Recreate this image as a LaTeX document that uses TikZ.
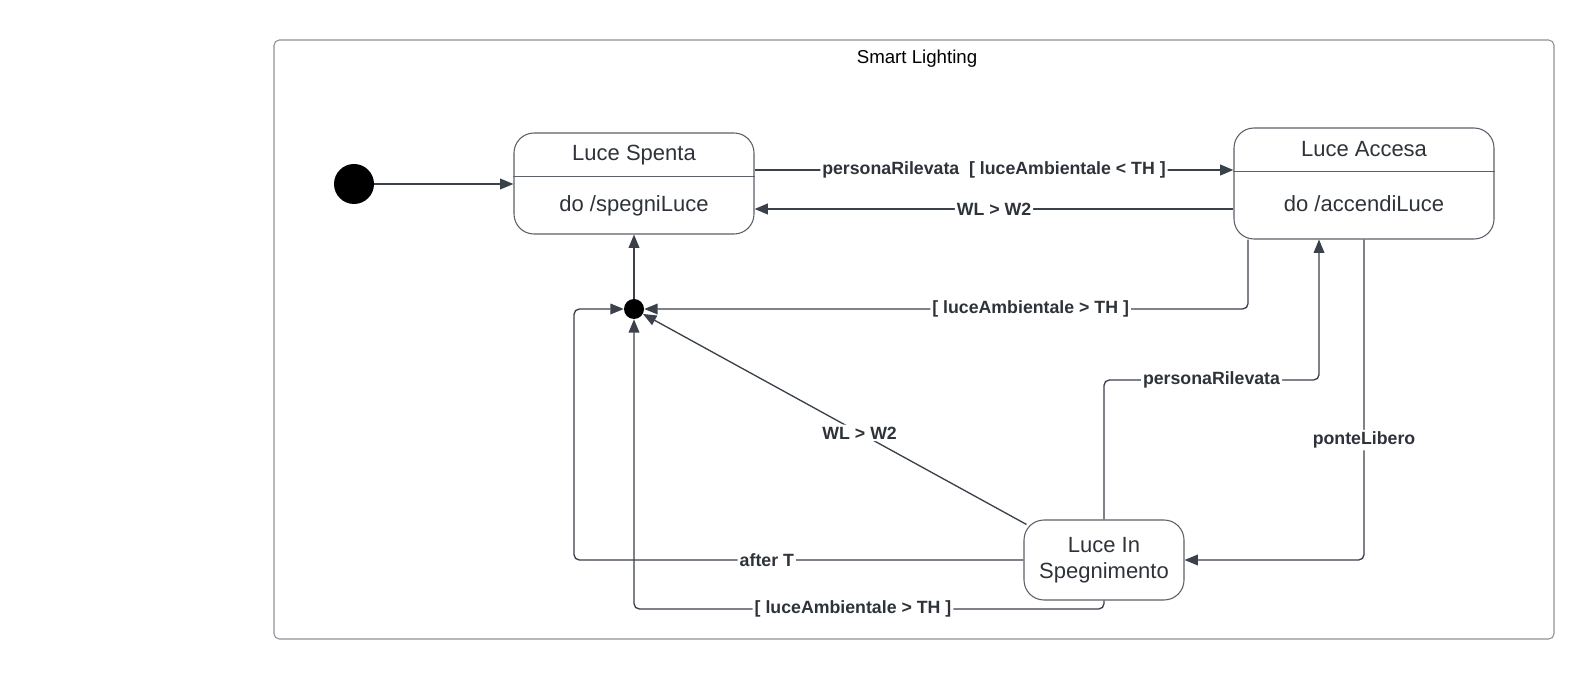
\documentclass[tikz,border=0pt]{standalone}
\usepackage{fontspec}
\setmainfont{Liberation Sans}
\usepackage{xcolor}
\usetikzlibrary{arrows.meta}
\definecolor{lineslate}{HTML}{3A414A}
\definecolor{boxslate}{HTML}{5C6068}
\definecolor{framegray}{HTML}{8E9095}
\definecolor{textslate}{HTML}{2E333A}

\begin{document}
\begin{tikzpicture}[x=0.75pt,y=-0.75pt,
    statebox/.style={draw=boxslate,line width=0.8pt,rounded corners=15pt},
    statetext/.style={text=textslate,font=\fontsize{16.5}{19.5}\selectfont,inner sep=0pt,align=center},
    trans/.style={draw=lineslate,line width=1pt,rounded corners=4pt,-{Triangle[length=10pt,width=8pt]}},
    guard/.style={fill=white,text=textslate,font=\fontsize{13.3}{16}\selectfont\bfseries,inner sep=1.5pt}]
\useasboundingbox (0,0) rectangle (1594,680);

\node[draw=framegray,line width=0.8pt,rounded corners=4pt,minimum width=960pt,minimum height=449.25pt] (system) at (914,339.5) {};
\node[font=\fontsize{14}{17}\selectfont] (systemname) at (917,59) {Smart Lighting};

\node[circle,fill=black,minimum size=30pt,inner sep=0pt] (init) at (354,184) {};
\node[circle,fill=black,minimum size=15pt,inner sep=0pt] (junction) at (634,309) {};

\node[statebox,minimum width=180pt,minimum height=75.75pt] (spenta) at (634,183.5) {};
\node[statetext] (spentaname) at (634,155) {Luce Spenta};
\node[statetext] (spentado) at (634,206) {do /spegniLuce};
\draw[boxslate,line width=0.8pt] ([yshift=-33pt]spenta.north west) -- ([yshift=-33pt]spenta.north east);

\node[statebox,minimum width=195pt,minimum height=83.25pt] (accesa) at (1364,183.5) {};
\node[statetext] (accesaname) at (1364,149) {Luce Accesa};
\node[statetext] (accesado) at (1364,204) {do /accendiLuce};
\draw[boxslate,line width=0.8pt] ([yshift=-33pt]accesa.north west) -- ([yshift=-33pt]accesa.north east);

\node[statebox,minimum width=120pt,minimum height=60pt] (spegnimento) at (1104,560) {};
\node[statetext] (spegnimentoname) at (1104,560) {Luce In\\Spegnimento};

\coordinate (upper) at (0,170);
\coordinate (lower) at (0,209);
\coordinate (bendjs) at (1248,309);
\coordinate (bendpr) at (1319,380);

\draw[trans] (init) -- (init -| spenta.west);
\draw[trans,line width=1.5pt] (spenta.east |- upper) -- node[guard]{personaRilevata\ \ [ luceAmbientale < TH ]} (accesa.west |- upper);
\draw[trans,line width=1.5pt] (accesa.west |- lower) -- node[guard]{WL > W2} (spenta.east |- lower);
\draw[trans] (junction) -- (spenta);
\draw[trans] (accesa.south -| bendjs) -- (bendjs) -- node[pos=0.36,guard]{[ luceAmbientale > TH ]} (junction.east);
\draw[trans] (spegnimento.north) -- (1104,380) -- node[guard]{personaRilevata} (bendpr) -- (accesa.south -| bendpr);
\draw[trans] (accesa.south) |- node[pos=0.313,guard]{ponteLibero} (spegnimento.east);
\draw[trans] ([shift={(3,5)}]spegnimento.north west) -- node[pos=0.435,guard]{WL > W2} (junction);
\draw[trans] (spegnimento.west) -- node[pos=0.571,guard]{after T} (574,560) -- (574,309) -- (junction.west);
\draw[trans] (spegnimento.south) -- (1104,609) -- node[pos=0.534,guard]{[ luceAmbientale > TH ]} (634,609) -- (junction.south);
\end{tikzpicture}
\end{document}
